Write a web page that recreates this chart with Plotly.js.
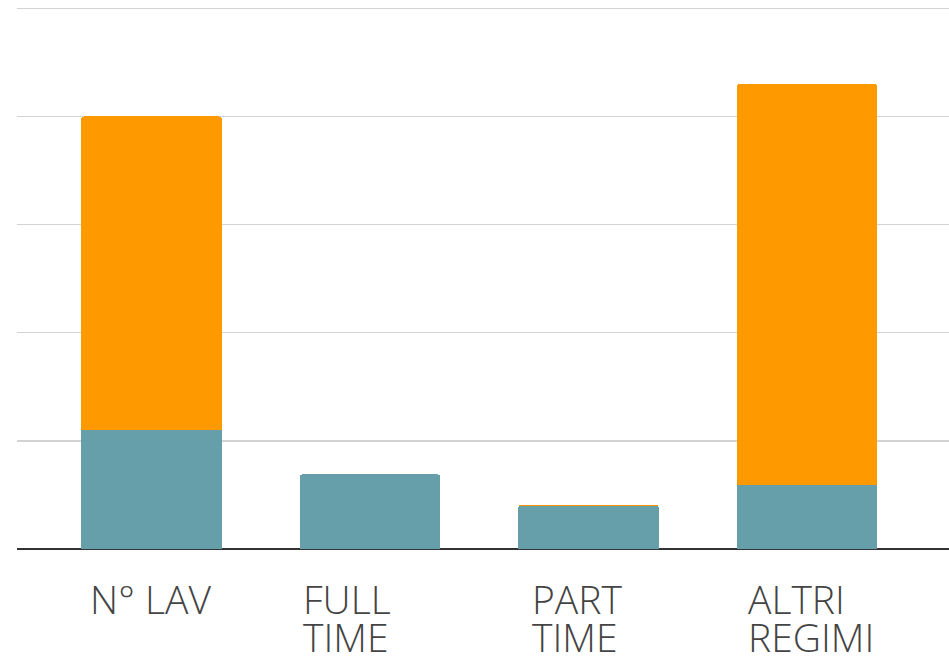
<!DOCTYPE html>
<html>
<head>
<meta charset="utf-8">
<script src="https://cdn.plot.ly/plotly-3.0.1.min.js"></script>
<style>html,body{margin:0;padding:0;background:#fff;}#chart{width:949px;height:657px;}</style>
</head>
<body>
<div id="chart"></div>
<script>
// Data
const categories = ["N° LAV", "FULL TIME", "PART TIME", "ALTRI REGIMI"];
const labelLines = [["N° LAV"], ["FULL", "TIME"], ["PART", "TIME"], ["ALTRI", "REGIMI"]];
const tealValues = [110, 69, 40, 59];
const orangeValues = [290, 0.8, 0.8, 371];
const gridVals = [0, 100, 200, 300, 400, 500];

// Style / layout helpers
const labelOffsets = [-64, -69, -58, -61];
const xIdx = categories.map((c, i) => i);

const traces = [
  {type: 'bar', x: xIdx, y: tealValues, marker: {color: '#669FAA'}, hoverinfo: 'skip', name: 'a'},
  {type: 'bar', x: xIdx, y: orangeValues, marker: {color: '#FF9900'}, hoverinfo: 'skip', name: 'b'}
];

const annotations = [];
labelLines.forEach((lines, i) => {
  lines.forEach((t, j) => {
    annotations.push({
      text: t, x: i, xref: 'x', y: 0, yref: 'paper',
      xanchor: 'left', yanchor: 'middle', xshift: labelOffsets[i], yshift: -49 - 38 * j,
      showarrow: false, align: 'left',
      font: {family: '"Open Sans", Lato, sans-serif', size: 39, color: '#444', weight: 300}
    });
  });
});

const layout = {
  width: 949, height: 657,
  margin: {l: 17, r: 0, t: 4, b: 108, pad: 0},
  paper_bgcolor: '#fff', plot_bgcolor: '#fff',
  barmode: 'stack', bargap: 0.355, barcornerradius: 3,
  showlegend: false,
  xaxis: {range: [-0.6156, 3.65], showticklabels: false, showgrid: false, zeroline: false, ticks: '', fixedrange: true},
  yaxis: {range: [0, 504], tickvals: gridVals, showticklabels: false, showgrid: true, gridcolor: '#D3D3D3', gridwidth: 1.5,
          zeroline: true, zerolinecolor: '#333', zerolinewidth: 1.5, ticks: '', fixedrange: true},
  annotations: annotations
};

Plotly.newPlot('chart', traces, layout, {displayModeBar: false, staticPlot: true});
</script>
</body>
</html>
